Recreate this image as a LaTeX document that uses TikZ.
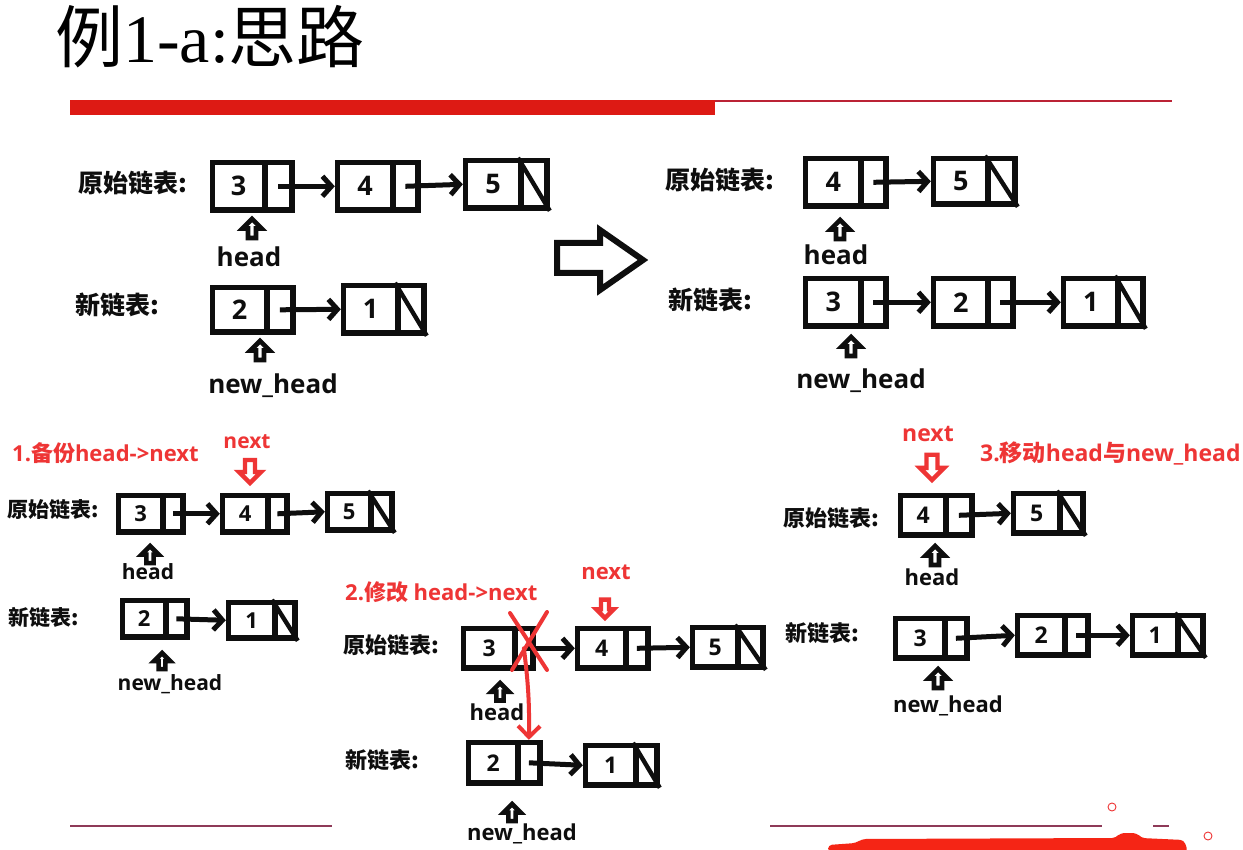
\documentclass[tikz,border=0pt]{standalone}
\usepackage{fontspec}
\usetikzlibrary{arrows.meta}
\newfontfamily\cjk{Noto Sans CJK SC}
\newfontfamily\lat{Open Sans}
\newfontfamily\tms{Liberation Serif}
\definecolor{ink}{HTML}{0E0E0E}
\definecolor{hl}{HTML}{EE3535}
\definecolor{bar}{HTML}{DD1A14}
\definecolor{rulec}{HTML}{8E3A58}
\definecolor{brush}{HTML}{F52515}

% one list element: data cell (#1) and pointer cell (#1p)
% #2 left, #3 top, #4 divider, #5 right, #6 bottom (outer edges), #7 value
\newcommand\lnode[7]{%
  \pgfmathsetmacro\lnW{#4-#2-2.8}%
  \pgfmathsetmacro\lnP{#5-#4-2.8}%
  \pgfmathsetmacro\lnH{#6-#3-5.6}%
  \pgfmathsetmacro\lnX{#2+2.8}%
  \pgfmathsetmacro\lnY{#3+2.8}%
  \node[cell, anchor=north west, minimum width=\lnW pt, minimum height=\lnH pt] (#1) at (\lnX,\lnY) {#7};%
  \node[cell, anchor=north west, minimum width=\lnP pt, minimum height=\lnH pt] (#1p) at (#4,\lnY) {};%
}
% null pointer: diagonal through the pointer cell
\newcommand\nullp[1]{\draw[draw=ink, line width=4.4pt] (#1p.north west) -- (#1p.south east);}

\tikzset{
  cell/.style={draw=ink, line width=5.6pt, inner sep=0pt, text=ink, cellfont},
  cellfont/.style={font=\lat\bfseries\fontsize{27}{27}\selectfont},
  link/.style={draw=ink, line width=5pt, -{Straight Barb[length=9pt,width=20pt]}},
  lab/.style={font=\cjk\bfseries\fontsize{#1}{#1}\selectfont, text=ink, inner sep=0pt, anchor=west},
  ptrtxt/.style={font=\lat\bfseries\fontsize{#1}{#1}\selectfont, text=ink, inner sep=0pt},
  redtxt/.style={font=\lat\bfseries\fontsize{#1}{#1}\selectfont, text=hl, inner sep=0pt},
  redmark/.style={draw=hl, line width=4pt, line cap=round},
  ptrup/.pic={\draw[draw=ink, fill=white, line width=4.6pt, line join=miter]
      (0,0) -- (9.5,9.5) -- (4,9.5) -- (4,19) -- (-4,19) -- (-4,9.5) -- (-9.5,9.5) -- cycle;},
  nextdown/.pic={\draw[draw=hl, fill=white, line width=4.4pt, line join=miter]
      (0,0) -- (-11,-11) -- (-5,-11) -- (-5,-23) -- (5,-23) -- (5,-11) -- (11,-11) -- cycle;},
}

\begin{document}
\begin{tikzpicture}[x=1pt,y=-1pt]
\useasboundingbox[fill=white] (0,0) rectangle (1243,850);

% ---------- title and header rules ----------
\node[anchor=base west, inner sep=0pt, text=black, font=\fontsize{68}{68}\selectfont]
  (title) at (55,63) {{\cjk 例}{\tms 1-a:}{\cjk 思路}};
\fill[bar] (70,100) rectangle (715,115);
\draw[rulec!60!red, line width=1.5pt] (715,101) -- (1172,101);

% ---------- top left: before ----------
\begin{scope}
\node[lab=25] (aorig) at (78,183) {原始链表:};
\lnode{a3}{207}{157}{262}{292}{210}{3}
\lnode{a4}{332}{157}{390}{418}{210}{4}
\lnode{a5}{460}{155}{518}{547}{208}{5}\nullp{a5}
\draw[link] (a3p.center) -- (a4.west);
\draw[link] (a4p.center) -- (a5.west);
\pic at (252,219) {ptrup};
\node[ptrtxt=26] (ahead) at (249,257) {head};
\node[lab=25] (anew) at (75,305) {新链表:};
\lnode{a2}{207}{282}{264}{293}{332}{2}
\lnode{a1}{338}{280}{395}{424}{333}{1}\nullp{a1}
\draw[link] (a2p.center) -- (a1.west);
\pic at (260,341) {ptrup};
\node[ptrtxt=26] (anewhead) at (273,386) {new\_head};
\end{scope}

% ---------- big transition arrow ----------
\draw[draw=ink, line width=6pt, line join=miter, fill=white]
  (557,243) -- (600,243) -- (600,230) -- (643,260) -- (600,290) -- (600,273) -- (557,273) -- cycle;

% ---------- top right: after ----------
\begin{scope}
\node[lab=25] (borig) at (665,180) {原始链表:};
\lnode{b4}{800}{153}{858}{886}{206}{4}
\lnode{b5}{928}{153}{985}{1015}{204}{5}\nullp{b5}
\draw[link] (b4p.center) -- (b5.west);
\pic at (840,220) {ptrup};
\node[ptrtxt=26] (bhead) at (836,255) {head};
\node[lab=25] (bnew) at (668,300) {新链表:};
\lnode{b3}{800}{273}{858}{886}{326}{3}
\lnode{b2}{928}{273}{985}{1013}{326}{2}
\lnode{b1}{1058}{273}{1115}{1143}{326}{1}\nullp{b1}
\draw[link] (b3p.center) -- (b2.west);
\draw[link] (b2p.center) -- (b1.west);
\pic at (851,337) {ptrup};
\node[ptrtxt=26] (bnewhead) at (861,381) {new\_head};
\end{scope}

% ---------- step 1 ----------
\begin{scope}[cellfont/.style={font=\lat\bfseries\fontsize{22}{22}\selectfont}]
\node[redtxt=22, anchor=west] (cstep) at (12,453) {1.{\cjk\bfseries 备份}head->next};
\node[redtxt=21] (cnext) at (247,442) {next};
\pic at (250,483) {nextdown};
\node[lab=21] (corig) at (7,510) {原始链表:};
\lnode{c3}{113}{490}{160}{183}{532}{3}
\lnode{c4}{217}{490}{265}{287}{532}{4}
\lnode{c5}{322}{488}{368}{392}{530}{5}\nullp{c5}
\draw[link] (c3p.center) -- (c4.west);
\draw[link] (c4p.center) -- (c5.west);
\pic[scale=0.9] at (150,546) {ptrup};
\node[ptrtxt=21] (chead) at (148,572) {head};
\node[lab=21] (cnew) at (8,617) {新链表:};
\lnode{c2}{117}{595}{163}{187}{637}{2}
\lnode{c1}{223}{597}{272}{295}{638}{1}\nullp{c1}
\draw[link] (c2p.center) -- (c1.west);
\pic[scale=0.85] at (162,653) {ptrup};
\node[ptrtxt=21] (cnewhead) at (170,684) {new\_head};
\end{scope}

% ---------- step 2 ----------
\begin{scope}[cellfont/.style={font=\lat\bfseries\fontsize{23}{23}\selectfont}]
\node[redtxt=22, anchor=west] (dstep) at (345,592) {2.{\cjk\bfseries 修改} head->next};
\node[redtxt=22] (dnext) at (606,572) {next};
\pic[scale=0.8] at (605,618) {nextdown};
\node[lab=22] (dorig) at (343,645) {原始链表:};
\lnode{d3}{458}{623}{512}{533}{668}{3}
\lnode{d4}{572}{623}{623}{648}{668}{4}
\lnode{d5}{687}{622}{735}{763}{667}{5}\nullp{d5}
\draw[link] (d3p.center) -- (d4.west);
\draw[link] (d4p.center) -- (d5.west);
\pic[scale=0.92] at (500,683) {ptrup};
\node[ptrtxt=22] (dhead) at (497,712) {head};
\node[lab=22] (dnew) at (345,760) {新链表:};
\lnode{d2}{463}{737}{515}{540}{783}{2}
\lnode{d1}{580}{740}{633}{657}{785}{1}\nullp{d1}
\draw[link] (d2p.center) -- (d1.west);
\pic[scale=0.9] at (512,804) {ptrup};
\node[ptrtxt=22] (dnewhead) at (522,834) {new\_head};
% old link struck out, new link redirected
\draw[redmark] (510,613) -- (547,670);
\draw[redmark] (547,612) -- (512,670);
\draw[redmark, -{Straight Barb[length=11pt,width=22pt]}] (d3p.center) to[bend left=4] (d2p.north);
\end{scope}

% ---------- step 3 ----------
\begin{scope}[cellfont/.style={font=\lat\bfseries\fontsize{23}{23}\selectfont}]
\node[redtxt=23] (enext) at (928,434) {next};
\node[redtxt=23, anchor=west] (estep) at (980,453) {3.{\cjk\bfseries 移动}head{\cjk\bfseries 与}new\_head};
\pic[scale=1.1] at (932,480) {nextdown};
\node[lab=22] (eorig) at (783,518) {原始链表:};
\lnode{e4}{895}{490}{943}{972}{535}{4}
\lnode{e5}{1008}{488}{1057}{1083}{533}{5}\nullp{e5}
\draw[link] (e4p.center) -- (e5.west);
\pic at (935,546) {ptrup};
\node[ptrtxt=22] (ehead) at (932,577) {head};
\node[lab=22] (enew) at (785,633) {新链表:};
\lnode{e3}{890}{613}{942}{967}{658}{3}
\lnode{e2}{1012}{610}{1062}{1088}{655}{2}
\lnode{e1}{1127}{610}{1175}{1203}{655}{1}\nullp{e1}
\draw[link] (e3p.center) -- (e2.west);
\draw[link] (e2p.center) -- (e1.west);
\pic at (938,669) {ptrup};
\node[ptrtxt=22] (enewhead) at (948,706) {new\_head};
\end{scope}

% ---------- footer marks ----------
\draw[rulec, line width=1.2pt] (70,826) -- (332,826);
\draw[rulec, line width=1.2pt] (770,826) -- (1102,826);
\draw[rulec, line width=1.2pt] (1153,826) -- (1169,826);
\draw[hl, line width=0.9pt] (1112,807) circle (4);
\draw[hl, line width=0.9pt] (1208,836) circle (4);
\fill[brush, rounded corners=4pt]
  (828,852) -- (828,845) -- (856,843) -- (862,839) -- (1116,838) -- (1120,833)
  -- (1137,833) -- (1141,838) -- (1184,840) -- (1188,852) -- cycle;
\end{tikzpicture}
\end{document}
